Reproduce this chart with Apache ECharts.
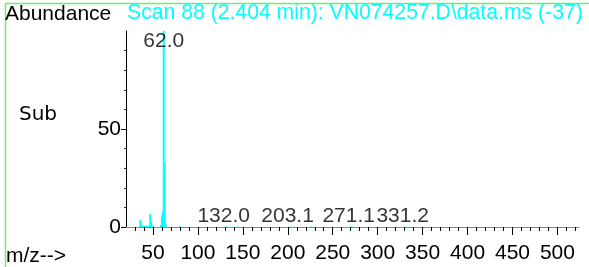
<!DOCTYPE html>
<html>
<head>
<meta charset="utf-8">
<script src="https://cdn.jsdelivr.net/npm/echarts@6/dist/echarts.min.js"></script>
<style>
html,body{margin:0;padding:0;background:#fff;}
#chart{width:589px;height:267px;}
</style>
</head>
<body>
<div id="chart"></div>
<script>
// m/z values and relative abundances of the spectrum sticks
const mzValues = [36, 37, 38, 39, 40, 41, 42, 43, 44, 45, 46, 47, 48, 49, 50, 59, 60, 61, 62, 63, 64, 80, 132, 144, 203, 226, 271, 331];
const abundances = [3.5, 1.2, 0.6, 0.5, 0.3, 0.6, 0.4, 0.6, 0.5, 0.3, 0.8, 6.6, 2.7, 0.8, 0.5, 1.0, 5.5, 8.0, 100, 33, 2.0, 0.4, 0.3, 0.3, 0.3, 0.3, 0.4, 0.3];
// labelled peaks
const topPeakMz = [62.0];
const topPeakAbund = [100];
const minorPeakMz = [132.0, 203.1, 271.1, 331.2];
const minorPeakAbund = [0, 0, 0, 0];
// axis ticks
const xMajorTicks = [50, 100, 150, 200, 250, 300, 350, 400, 450, 500];
const xMinorTicks = [30, 40, 60, 70, 80, 90, 110, 120, 130, 140, 160, 170, 180, 190, 210, 220, 230, 240, 260, 270, 280, 290, 310, 320, 330, 340, 360, 370, 380, 390, 410, 420, 430, 440, 460, 470, 480, 490, 510, 520];
const yMajorTicks = [0, 50];
const yMinorTicks = [10, 20, 30, 40, 60, 70, 80, 90];
const titleText = 'Scan 88 (2.404 min): VN074257.D\\data.ms (-37)';

const FONT = 'Liberation Sans, Arial, sans-serif';
const FS = 21;
const chart = echarts.init(document.getElementById('chart'), null, {renderer: 'canvas'});

const stickData = mzValues.map((m, i) => [m, abundances[i]]);
const topLabelData = topPeakMz.map((m, i) => [m, topPeakAbund[i]]);
const minorLabelData = minorPeakMz.map((m, i) => [m, minorPeakAbund[i]]);

chart.setOption({
  animation: false,
  backgroundColor: '#fff',
  title: {
    text: titleText,
    left: 127,
    top: 3,
    padding: 0,
    textStyle: {color: '#00ffff', fontSize: 21.2, fontWeight: 'normal', fontFamily: FONT}
  },
  grid: {left: 126, right: 10, top: 31, bottom: 40, containLabel: false},
  xAxis: [
    {
      type: 'value', min: 20, max: 524, position: 'bottom',
      axisLine: {show: true, lineStyle: {color: '#8a8a8a', width: 1}},
      axisTick: {show: true, customValues: xMajorTicks, length: 8, lineStyle: {color: '#000', width: 1}},
      axisLabel: {customValues: xMajorTicks, fontSize: FS, color: '#000', margin: 16, fontFamily: FONT},
      splitLine: {show: false}
    },
    {
      type: 'value', min: 20, max: 524, position: 'bottom',
      axisLine: {show: false},
      axisTick: {show: true, customValues: xMinorTicks, length: 4, lineStyle: {color: '#000', width: 1}},
      axisLabel: {show: false},
      splitLine: {show: false}
    }
  ],
  yAxis: [
    {
      type: 'value', min: 0, max: 100, position: 'left',
      axisLine: {show: true, lineStyle: {color: '#000', width: 1}},
      axisTick: {show: true, customValues: yMajorTicks, length: 5, lineStyle: {color: '#000'}},
      axisLabel: {customValues: yMajorTicks, fontSize: FS, color: '#000', margin: 5, fontFamily: FONT},
      splitLine: {show: false}
    },
    {
      type: 'value', min: 0, max: 100, position: 'left',
      axisLine: {show: false},
      axisTick: {show: true, customValues: yMinorTicks, length: 2, lineStyle: {color: '#333'}},
      axisLabel: {show: false},
      splitLine: {show: false}
    }
  ],
  series: [
    {
      type: 'bar', xAxisIndex: 0, yAxisIndex: 0,
      data: stickData,
      barWidth: 2,
      itemStyle: {color: '#00ffff'},
      silent: true
    },
    {
      type: 'scatter', xAxisIndex: 0, yAxisIndex: 0,
      data: topLabelData, symbolSize: 0,
      label: {show: true, position: 'bottom', distance: 0, fontSize: FS, color: '#000', fontFamily: FONT,
        formatter: p => p.value[0].toFixed(1)}
    },
    {
      type: 'scatter', xAxisIndex: 0, yAxisIndex: 0,
      data: minorLabelData, symbolSize: 0,
      label: {show: true, position: 'top', distance: 0, offset: [-3, 0], fontSize: FS, color: '#000', fontFamily: FONT,
        formatter: p => p.value[0].toFixed(1)}
    }
  ],
  graphic: [
    {type: 'line', shape: {x1: 5, y1: 3.5, x2: 589, y2: 3.5}, style: {stroke: '#6cf06c', lineWidth: 1.5}, silent: true},
    {type: 'line', shape: {x1: 5.5, y1: 3, x2: 5.5, y2: 267}, style: {stroke: '#6cf06c', lineWidth: 1.5}, silent: true},
    {type: 'text', left: 5, top: 4, style: {text: 'Abundance', fontSize: FS, fill: '#000', fontFamily: FONT}},
    {type: 'text', left: 19, top: 105, style: {text: 'Sub', fontSize: 20, fill: '#000', fontFamily: 'DejaVu Sans, sans-serif'}},
    {type: 'text', left: 6, top: 246, style: {text: 'm/z-->', fontSize: FS, fill: '#000', fontFamily: FONT}}
  ]
});
</script>
</body>
</html>
